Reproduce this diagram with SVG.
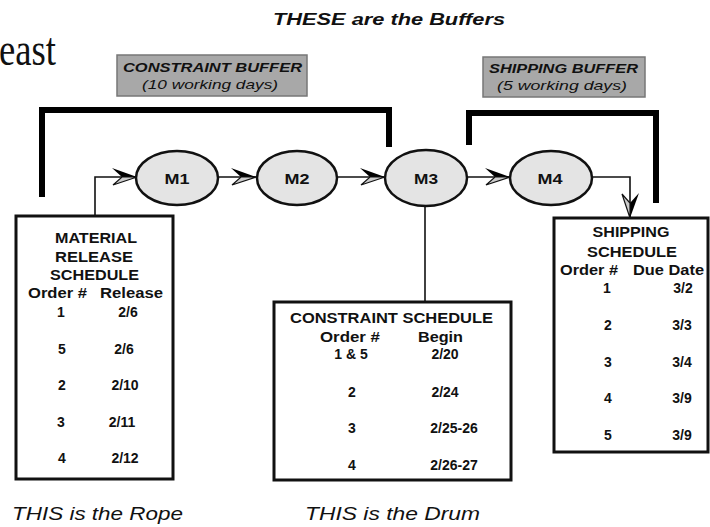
<svg xmlns="http://www.w3.org/2000/svg" width="710" height="527" viewBox="0 0 710 527">
<style>
.t{font-family:"Liberation Sans",Arial,sans-serif;fill:#111;}
.b{font-weight:bold;}
.i{font-style:italic;}
.bx{fill:#fff;stroke:#111;stroke-width:3;}
.buf{fill:#a8a8a8;stroke:#777;stroke-width:1.5;}
.ell{fill:#e4e4e4;stroke:#111;stroke-width:2.5;}
.con{fill:none;stroke:#111;stroke-width:1.6;}
.brk{fill:none;stroke:#000;stroke-width:6;stroke-linejoin:miter;stroke-linecap:butt;}
.sch{font-size:14px;font-weight:bold;}
.row{font-size:14px;font-weight:bold;}
</style>
<defs>
<marker id="ah" markerUnits="userSpaceOnUse" markerWidth="30" markerHeight="20" viewBox="-26 -10 28 20" refX="0" refY="0" orient="auto">
<path d="M0,0 L-25,-9 L-15,0 Z" fill="#000"/>
<path d="M0,0 L-24,8 L-15,0 Z" fill="#ccc" stroke="#111" stroke-width="1.2"/>
</marker>
</defs>
<rect width="710" height="527" fill="#fff"/>

<text class="t b i" x="273" y="25" font-size="17" textLength="232" lengthAdjust="spacingAndGlyphs">THESE are the Buffers</text>
<text x="-1" y="65" font-family="'Liberation Serif','Times New Roman',serif" font-size="46" fill="#111" textLength="57" lengthAdjust="spacingAndGlyphs">east</text>

<g id="constraint-buffer">
<rect class="buf" x="117" y="55" width="190" height="41"/>
<text class="t b i" x="123" y="72" font-size="13" textLength="179" lengthAdjust="spacingAndGlyphs">CONSTRAINT BUFFER</text>
<text class="t i" x="142" y="89" font-size="13" textLength="136" lengthAdjust="spacingAndGlyphs">(10 working days)</text>
</g>
<g id="shipping-buffer">
<rect class="buf" x="483" y="57" width="162" height="40"/>
<text class="t b i" x="489" y="73" font-size="13" textLength="149" lengthAdjust="spacingAndGlyphs">SHIPPING BUFFER</text>
<text class="t i" x="497" y="90" font-size="13" textLength="130" lengthAdjust="spacingAndGlyphs">(5 working days)</text>
</g>

<g id="connectors">
<path class="brk" d="M42,197 V110 H389 V147"/>
<path class="brk" d="M469,145 V113 H656 V203"/>
<path class="con" d="M95,216 V177 H137" marker-end="url(#ah)"/>
<path class="con" d="M218,177 H256" marker-end="url(#ah)"/>
<path class="con" d="M337,177 H385" marker-end="url(#ah)"/>
<path class="con" d="M467,177 H510" marker-end="url(#ah)"/>
<path class="con" d="M592,177 H630 V218" marker-end="url(#ah)"/>
<path class="con" d="M425,206 V302"/>
</g>

<g id="M1"><ellipse class="ell" cx="177" cy="178" rx="41" ry="27"/><text class="t b" x="177" y="184" font-size="15" text-anchor="middle" textLength="25" lengthAdjust="spacingAndGlyphs">M1</text></g>
<g id="M2"><ellipse class="ell" cx="297" cy="178" rx="40" ry="27"/><text class="t b" x="297" y="184" font-size="15" text-anchor="middle" textLength="25" lengthAdjust="spacingAndGlyphs">M2</text></g>
<g id="M3"><ellipse class="ell" cx="426" cy="178" rx="41" ry="28"/><text class="t b" x="426" y="184" font-size="15" text-anchor="middle" textLength="24" lengthAdjust="spacingAndGlyphs">M3</text></g>
<g id="M4"><ellipse class="ell" cx="551" cy="178" rx="41" ry="27"/><text class="t b" x="550" y="184" font-size="15" text-anchor="middle" textLength="25" lengthAdjust="spacingAndGlyphs">M4</text></g>

<g id="material-release-schedule">
<rect class="bx" x="16" y="216" width="157" height="263"/>
<text class="t sch" x="96" y="243" text-anchor="middle" textLength="82" lengthAdjust="spacingAndGlyphs">MATERIAL</text>
<text class="t sch" x="94" y="262" text-anchor="middle" textLength="78" lengthAdjust="spacingAndGlyphs">RELEASE</text>
<text class="t sch" x="94.5" y="280" text-anchor="middle" textLength="89" lengthAdjust="spacingAndGlyphs">SCHEDULE</text>
<text class="t sch" x="28" y="298" textLength="59" lengthAdjust="spacingAndGlyphs">Order #</text>
<text class="t sch" x="100" y="298" textLength="63" lengthAdjust="spacingAndGlyphs">Release</text>
<g class="t row" text-anchor="middle">
<text x="61" y="317">1</text><text x="128" y="317">2/6</text>
<text x="62" y="354">5</text><text x="124" y="354">2/6</text>
<text x="62" y="390">2</text><text x="125" y="390">2/10</text>
<text x="61" y="427">3</text><text x="122" y="427">2/11</text>
<text x="62" y="463">4</text><text x="125" y="463">2/12</text>
</g>
</g>

<g id="constraint-schedule">
<rect class="bx" x="274" y="302" width="237" height="178"/>
<text class="t sch" x="290" y="323" textLength="203" lengthAdjust="spacingAndGlyphs">CONSTRAINT SCHEDULE</text>
<text class="t sch" x="320" y="342" textLength="60" lengthAdjust="spacingAndGlyphs">Order #</text>
<text class="t sch" x="418" y="342" textLength="45" lengthAdjust="spacingAndGlyphs">Begin</text>
<g class="t row" text-anchor="middle">
<text x="351" y="359">1 &amp; 5</text><text x="445" y="359">2/20</text>
<text x="352" y="397">2</text><text x="445" y="397">2/24</text>
<text x="352" y="433">3</text><text x="454" y="433">2/25-26</text>
<text x="352" y="470">4</text><text x="454" y="470">2/26-27</text>
</g>
</g>

<g id="shipping-schedule">
<rect class="bx" x="554" y="218" width="154" height="234"/>
<text class="t sch" x="631" y="237" text-anchor="middle" textLength="77" lengthAdjust="spacingAndGlyphs">SHIPPING</text>
<text class="t sch" x="632" y="257" text-anchor="middle" textLength="90" lengthAdjust="spacingAndGlyphs">SCHEDULE</text>
<text class="t sch" x="560" y="275" textLength="58" lengthAdjust="spacingAndGlyphs">Order #</text>
<text class="t sch" x="633" y="275" textLength="71" lengthAdjust="spacingAndGlyphs">Due Date</text>
<g class="t row" text-anchor="middle">
<text x="607" y="293">1</text><text x="683" y="293">3/2</text>
<text x="608" y="330">2</text><text x="682" y="330">3/3</text>
<text x="608" y="367">3</text><text x="682" y="367">3/4</text>
<text x="608" y="403">4</text><text x="682" y="403">3/9</text>
<text x="608" y="440">5</text><text x="682" y="440">3/9</text>
</g>
</g>

<text class="t i" x="12" y="520" font-size="19" textLength="171" lengthAdjust="spacingAndGlyphs">THIS is the Rope</text>
<text class="t i" x="305" y="520" font-size="19" textLength="175" lengthAdjust="spacingAndGlyphs">THIS is the Drum</text>
</svg>
